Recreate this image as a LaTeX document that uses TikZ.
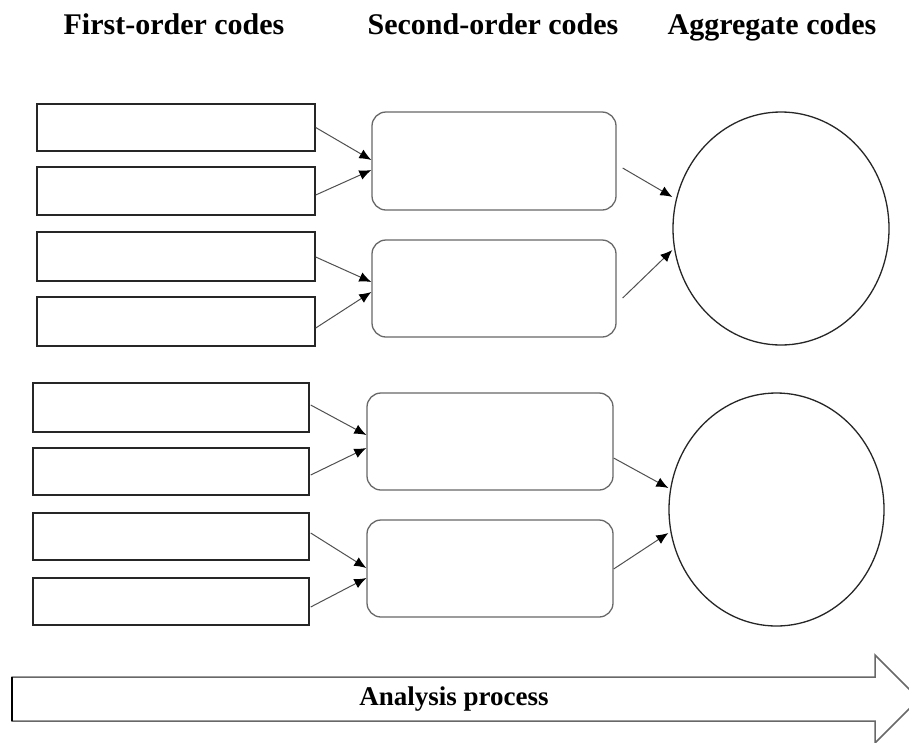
\documentclass[tikz,border=0pt]{standalone}
\usepackage{fontspec}
\setmainfont{Liberation Serif}
\usetikzlibrary{arrows.meta,shapes.geometric}
\definecolor{edgegray}{HTML}{505050}
\definecolor{softgray}{HTML}{686868}
\tikzset{
  firstbox/.style={draw=black!85, line width=1.4pt, rectangle, inner sep=0pt,
    minimum height=48pt},
  secondbox/.style={draw=softgray, line width=1.3pt, rectangle, rounded corners=14pt,
    inner sep=0pt},
  aggbox/.style={draw=black!85, line width=1.3pt, ellipse, inner sep=0pt},
  link/.style={draw=edgegray, line width=1pt,
    -{Latex[length=12pt,width=10pt,fill=black,color=black]}},
  heading/.style={font=\bfseries\fontsize{30}{34}\selectfont, anchor=base, inner sep=0pt},
  bigarrow/.style={draw=softgray, line width=1.5pt, fill=white}
}
\begin{document}
\begin{tikzpicture}[x=1pt,y=-1pt]
\clip (0,0) rectangle (909,742);
\fill[white] (0,0) rectangle (909,742);

% column headings
\node[heading] (h1) at (174,34) {First-order codes};
\node[heading] (h2) at (493,34) {Second-order codes};
\node[heading] (h3) at (772,34) {Aggregate codes};

% first-order codes, upper group
\node[firstbox, minimum width=278pt, minimum height=47pt] (f1) at (176,127.5) {};
\node[firstbox, minimum width=278pt, minimum height=48pt] (f2) at (176,191) {};
\node[firstbox, minimum width=278pt, minimum height=49pt] (f3) at (176,256.5) {};
\node[firstbox, minimum width=278pt, minimum height=49pt] (f4) at (176,321.5) {};
% first-order codes, lower group
\node[firstbox, minimum width=276pt, minimum height=49pt] (f5) at (171,407.5) {};
\node[firstbox, minimum width=276pt, minimum height=47pt] (f6) at (171,471.5) {};
\node[firstbox, minimum width=276pt, minimum height=47pt] (f7) at (171,536.5) {};
\node[firstbox, minimum width=276pt, minimum height=47pt] (f8) at (171,601.5) {};

% second-order codes
\node[secondbox, minimum width=244pt, minimum height=98pt] (s1) at (494,161) {};
\node[secondbox, minimum width=244pt, minimum height=97pt] (s2) at (494,288.5) {};
\node[secondbox, minimum width=246pt, minimum height=97pt] (s3) at (490,441.5) {};
\node[secondbox, minimum width=246pt, minimum height=97pt] (s4) at (490,568.5) {};

% aggregate codes
\node[aggbox, minimum width=216pt, minimum height=233pt] (a1) at (781,228.5) {};
\node[aggbox, minimum width=215pt, minimum height=233pt] (a2) at (776.5,509.5) {};

% first-order to second-order
\draw[link] (f1.east) -- ([yshift=1pt]s1.west);
\draw[link] ([yshift=-4pt]f2.east) -- ([yshift=-9pt]s1.west);
\draw[link] ([yshift=-0.5pt]f3.east) -- ([yshift=6.5pt]s2.west);
\draw[link] ([yshift=-6.5pt]f4.east) -- ([yshift=-3.5pt]s2.west);
\draw[link] ([xshift=1pt,yshift=2.5pt]f5.east) -- ([yshift=6.5pt]s3.west);
\draw[link] ([xshift=1pt,yshift=-3.5pt]f6.east) -- ([yshift=-6.5pt]s3.west);
\draw[link] ([xshift=1pt,yshift=3.5pt]f7.east) -- ([yshift=0.5pt]s4.west);
\draw[link] ([xshift=1pt,yshift=-5.5pt]f8.east) -- ([yshift=-9.5pt]s4.west);

% second-order to aggregate
\draw[link] ([xshift=6pt,yshift=-7pt]s1.east) -- ([yshift=31.5pt]a1.west);
\draw[link] ([xshift=6pt,yshift=-9.5pt]s2.east) -- ([yshift=-21.5pt]a1.west);
\draw[link] ([yshift=-16.5pt]s3.east) -- ([yshift=21.5pt]a2.west);
\draw[link] ([yshift=-0.5pt]s4.east) -- ([yshift=-23.5pt]a2.west);

% process arrow along the bottom
\draw[bigarrow] (12,677) -- (875,677) -- (875,655) -- (919,699) -- (875,743)
  -- (875,721) -- (12,721) -- cycle;
\draw[black, line width=1.5pt] (12,677) -- (12,721);
\node[font=\bfseries\fontsize{27}{30}\selectfont, inner sep=0pt] (ap) at (454,699) {Analysis process};
\end{tikzpicture}
\end{document}
